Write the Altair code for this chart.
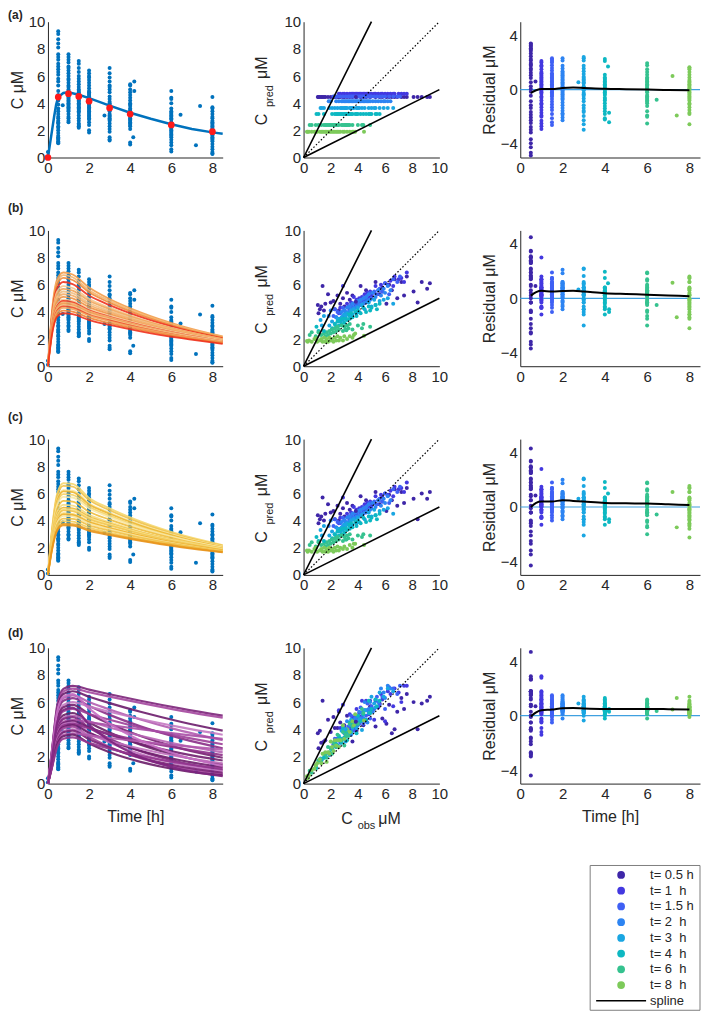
import altair as alt
import pandas as pd

FONT = "Liberation Sans"
INK = "#262626"

# ---------------- data ----------------
groups = [0.5, 1, 1.5, 2, 3, 4, 6, 8]
group_labels = ["t= 0.5 h", "t= 1\u00a0\u00a0h", "t= 1.5 h", "t= 2\u00a0\u00a0h",
                "t= 3\u00a0\u00a0h", "t= 4\u00a0\u00a0h", "t= 6\u00a0\u00a0h", "t= 8\u00a0\u00a0h"]
group_colors = ["#3E26A8", "#4338E0", "#3F60F4", "#2D84F2", "#1AA6E2", "#0DB8C2", "#35C28F", "#7DCA5A"]

# naive pooled means (red dots) and fitted curve, panel (a)
mean_t = [0, 0.5, 1, 1.5, 2, 3, 4, 6, 8]
mean_c = [0, 4.45, 4.7, 4.5, 4.15, 3.65, 3.2, 2.4, 1.9]
fit_t = [0, 0.1, 0.2, 0.3, 0.4, 0.5, 0.75, 1, 1.5, 2, 3, 4, 5, 6, 7, 8, 8.5]
fit_c = [0, 1.0, 2.0, 3.0, 3.9, 4.45, 4.75, 4.8, 4.62, 4.37, 3.82, 3.3, 2.85, 2.45, 2.1, 1.85, 1.75]

# observed concentrations by nominal time, with predictions of models b, c, d
obs_05 = [9.3, 9.1, 8.7, 8.4, 8.1, 7.6, 7.4, 7.2, 6.9, 6.7, 6.5, 6.3, 6.1, 5.8, 5.6, 5.3, 4.9, 4.6, 4.4, 4.2,
          3.9, 3.6, 3.4, 3.2, 3.0, 2.9, 2.7, 2.5, 2.3, 2.2, 2.0, 1.8, 1.6, 1.5, 1.4, 1.3, 1.2, 1.1, 1.05, 2.6]
pb_05 = [6.1, 5.7, 6.2, 4.7, 5.5, 6.6, 5.2, 6.2, 5.0, 6.4, 5.6, 6.0, 4.6, 5.8, 5.3, 6.2, 5.1, 5.6, 4.8, 5.9,
         4.5, 5.2, 4.9, 5.4, 4.4, 5.0, 4.6, 5.2, 4.2, 4.8, 4.7, 5.3, 4.6, 4.1, 5.9, 4.4, 4.2, 3.9, 4.5, 4.1]
pc_05 = [6.1, 5.6, 6.0, 4.1, 5.6, 6.4, 5.3, 6.1, 5.1, 6.3, 5.5, 5.9, 4.7, 5.7, 5.2, 6.1, 5.0, 5.5, 4.9, 5.8,
         4.4, 5.1, 4.8, 5.3, 4.3, 4.9, 4.5, 5.1, 4.1, 4.7, 4.6, 5.2, 4.5, 4.0, 5.7, 4.3, 4.1, 3.8, 4.4, 4.0]
pd_05 = [6.4, 6.1, 5.9, 4.0, 6.0, 6.6, 5.5, 6.3, 5.3, 4.0, 3.7, 5.8, 4.4, 4.8, 5.9, 4.2, 5.7, 4.6, 4.3, 4.9,
         3.9, 3.1, 4.2, 5.0, 4.3, 4.1, 4.5, 4.1, 4.1, 4.9, 3.8, 4.7, 3.2, 3.1, 6.1, 3.0, 3.9, 2.6, 3.7, 5.3]

obs_1 = [7.6, 7.4, 7.2, 7.0, 6.7, 6.6, 6.4, 6.2, 6.0, 5.8, 5.7, 5.5, 5.3, 5.2, 5.0, 4.9, 4.8, 4.7, 4.6, 4.5,
         4.4, 4.3, 4.2, 4.1, 4.0, 3.9, 3.8, 3.7, 3.6, 3.5, 3.4, 3.2, 3.0, 2.9, 2.7, 2.6]
pb_1 = [6.9, 6.2, 6.5, 6.4, 6.6, 5.9, 6.3, 6.0, 6.1, 5.5, 6.0, 5.6, 5.9, 5.4, 5.2, 5.5, 5.0, 5.4, 4.9, 5.3,
        4.8, 5.1, 4.6, 5.0, 4.5, 4.9, 4.4, 5.1, 4.3, 4.7, 4.2, 4.6, 4.1, 5.9, 4.3, 3.9]
pc_1 = [6.8, 6.1, 6.4, 6.3, 6.5, 5.8, 6.2, 5.9, 6.0, 5.4, 5.9, 5.5, 5.8, 5.3, 5.1, 5.4, 4.9, 5.3, 4.8, 5.2,
        4.7, 5.0, 4.5, 4.9, 4.4, 4.8, 4.3, 5.0, 4.2, 4.6, 4.1, 4.5, 4.0, 5.7, 4.2, 3.8]
pd_1 = [7.2, 7.2, 6.0, 6.7, 7.0, 5.7, 6.6, 6.8, 4.6, 6.2, 6.6, 5.6, 6.1, 4.7, 5.5, 6.1, 5.1, 5.4, 6.1, 4.7,
        5.3, 6.1, 4.6, 5.2, 4.6, 5.5, 4.1, 4.7, 4.9, 4.0, 5.1, 4.0, 4.2, 5.8, 4.1, 5.4]

obs_15 = [7.1, 6.9, 6.6, 6.3, 6.0, 5.8, 5.6, 5.4, 5.2, 5.0, 4.9, 4.8, 4.7, 4.6, 4.5, 4.4, 4.3, 4.2, 4.1, 4.0,
          3.9, 3.8, 3.7, 3.6, 3.5, 3.4, 3.3, 3.1, 2.9, 2.7, 2.5, 2.4, 2.3, 2.2]
pb_15 = [6.6, 6.2, 6.4, 5.3, 6.1, 5.5, 5.7, 5.3, 5.5, 5.0, 5.4, 4.9, 5.2, 4.7, 5.0, 4.6, 4.9, 4.5, 4.8, 4.4,
         4.7, 4.3, 4.6, 4.2, 4.5, 4.1, 4.4, 4.0, 4.3, 3.9, 4.0, 3.6, 4.2, 3.7]
pc_15 = [6.5, 6.1, 6.3, 5.3, 6.0, 5.4, 5.6, 5.2, 5.4, 4.9, 5.3, 4.8, 5.1, 4.6, 4.9, 4.5, 4.8, 4.4, 4.7, 4.3,
         4.6, 4.2, 4.5, 4.1, 4.4, 4.0, 4.3, 3.9, 4.2, 3.8, 3.9, 3.5, 4.1, 3.6]
pd_15 = [7.2, 6.6, 7.0, 7.1, 5.5, 6.4, 5.8, 6.4, 5.5, 5.7, 4.8, 5.3, 5.9, 5.0, 5.4, 4.4, 4.9, 5.6, 4.4, 4.8,
         4.4, 4.9, 3.9, 4.3, 5.0, 3.8, 4.2, 3.7, 4.2, 3.0, 3.3, 2.9, 3.3, 2.9]

obs_2 = [6.4, 6.2, 6.0, 5.9, 5.7, 5.5, 5.3, 5.1, 4.9, 4.8, 4.7, 4.6, 4.5, 4.4, 4.3, 4.2, 4.1, 4.0, 3.9, 3.8,
         3.7, 3.6, 3.5, 3.4, 3.3, 3.2, 3.1, 3.0, 2.9, 2.8, 2.6, 2.4, 2.0, 1.85]
pb_2 = [5.6, 5.9, 5.4, 5.7, 5.2, 5.6, 5.1, 5.4, 4.9, 5.3, 4.8, 5.1, 4.7, 5.0, 4.6, 4.9, 4.5, 4.8, 4.4, 4.7,
        4.3, 4.6, 4.2, 4.4, 4.0, 4.3, 3.9, 4.1, 3.7, 4.0, 3.5, 3.6, 4.1, 3.7]
pc_2 = [5.5, 5.8, 5.3, 5.6, 5.1, 5.5, 5.0, 5.3, 4.8, 5.2, 4.7, 5.0, 4.6, 4.9, 4.5, 4.8, 4.4, 4.7, 4.3, 4.6,
        4.2, 4.5, 4.1, 4.3, 3.9, 4.2, 3.8, 4.0, 3.6, 3.9, 3.4, 3.5, 4.0, 3.6]
pd_2 = [7.0, 7.2, 6.3, 6.7, 7.0, 6.0, 6.2, 5.3, 6.0, 5.5, 4.5, 5.4, 6.0, 4.8, 5.2, 4.8, 5.3, 4.3, 4.6, 4.8,
        4.2, 4.4, 3.6, 4.3, 3.9, 4.6, 3.5, 3.7, 3.9, 3.3, 3.4, 2.7, 2.6, 2.25]

obs_3 = [6.6, 6.2, 5.9, 5.6, 5.3, 5.2, 5.0, 4.8, 4.5, 4.3, 4.1, 4.0, 3.9, 3.7, 3.6, 3.5, 3.4, 3.2, 3.1, 3.0,
         2.9, 2.8, 2.7, 2.5, 2.3, 2.1, 1.9, 1.5, 1.35, 1.25]
pb_3 = [4.6, 5.0, 4.9, 4.8, 4.5, 4.9, 4.4, 4.7, 4.2, 4.5, 4.0, 4.3, 3.9, 4.2, 3.8, 4.1, 3.7, 3.9, 3.5, 3.8,
        3.4, 3.6, 3.3, 3.5, 3.1, 3.3, 3.0, 3.7, 3.0, 3.4]
pc_3 = [4.5, 4.9, 4.8, 4.7, 4.4, 4.8, 4.3, 4.6, 4.1, 4.4, 3.9, 4.2, 3.8, 4.1, 3.7, 4.0, 3.6, 3.8, 3.4, 3.7,
        3.3, 3.5, 3.2, 3.4, 3.0, 3.2, 2.9, 3.6, 2.9, 3.3]
pd_3 = [6.8, 7.0, 6.4, 6.7, 5.6, 5.9, 6.4, 5.2, 5.4, 3.95, 4.7, 5.0, 4.1, 4.5, 4.1, 4.7, 3.7, 3.9, 3.1, 3.9,
        3.3, 3.9, 3.3, 2.8, 3.1, 2.6, 2.1, 2.2, 1.75, 1.85]

obs_4 = [5.4, 5.3, 5.0, 4.8, 4.6, 4.4, 4.2, 4.0, 3.9, 3.8, 3.6, 3.5, 3.4, 3.3, 3.2, 3.1, 3.0, 2.9, 2.8, 2.7,
         2.6, 2.5, 2.4, 2.3, 2.1, 1.1, 0.95]
pb_4 = [4.2, 4.5, 4.3, 4.4, 4.0, 4.3, 3.9, 4.1, 3.7, 4.0, 3.6, 3.9, 3.5, 3.8, 3.4, 3.6, 3.2, 3.5, 3.1, 3.4,
        3.0, 3.3, 2.9, 3.1, 2.8, 2.6, 2.9]
pc_4 = [4.1, 4.4, 4.2, 4.3, 3.9, 4.2, 3.8, 4.0, 3.6, 3.9, 3.5, 3.8, 3.4, 3.7, 3.3, 3.5, 3.1, 3.4, 3.0, 3.3,
        2.9, 3.2, 2.8, 3.0, 2.7, 2.5, 2.8]
pd_4 = [5.7, 6.2, 5.5, 6.1, 4.7, 5.1, 4.6, 5.0, 3.7, 4.4, 4.4, 3.8, 4.5, 3.8, 3.2, 3.8, 3.4, 4.1, 3.0, 3.3,
        3.5, 2.8, 2.9, 3.1, 2.5, 1.7, 1.15]

obs_6 = [4.9, 4.4, 4.3, 4.0, 3.6, 3.4, 3.3, 3.2, 3.1, 3.0, 2.9, 2.8, 2.6, 2.5, 2.4, 2.3, 2.2, 2.1, 2.0, 1.9,
         1.8, 1.7, 1.6, 1.5, 1.3, 1.1, 0.9, 0.6, 0.45]
pb_6 = [2.9, 3.1, 2.8, 3.0, 2.7, 3.1, 2.8, 3.0, 2.7, 2.9, 2.6, 3.0, 2.7, 2.9, 2.6, 2.8, 2.5, 2.7, 2.4, 2.6,
        2.3, 2.5, 2.2, 2.4, 2.3, 2.5, 2.2, 2.5, 2.3]
pc_6 = [2.9, 3.0, 2.8, 2.9, 2.6, 3.0, 2.7, 2.9, 2.6, 2.8, 2.5, 2.9, 2.6, 2.8, 2.5, 2.7, 2.4, 2.6, 2.3, 2.5,
        2.2, 2.4, 2.1, 2.3, 2.2, 2.4, 2.1, 2.4, 2.2]
pd_6 = [5.2, 5.2, 5.5, 4.4, 4.2, 4.4, 3.5, 3.9, 3.6, 2.8, 3.8, 3.2, 3.2, 3.6, 2.7, 2.8, 3.0, 2.2, 2.6, 2.3,
        2.7, 1.9, 2.1, 2.2, 1.6, 1.7, 1.3, 0.8, 0.95]

obs_8 = [4.45, 3.7, 3.6, 3.4, 3.2, 3.0, 2.9, 2.7, 2.6, 2.5, 2.4, 2.3, 2.2, 2.1, 2.0, 1.9, 1.8, 1.7, 1.6, 1.5,
         1.4, 1.3, 1.2, 1.0, 0.8, 0.6, 0.4, 0.3, 0.25]
pb_8 = [2.25, 2.3, 2.1, 2.2, 2.0, 2.2, 1.9, 2.1, 1.9, 2.2, 1.9, 2.1, 1.8, 2.0, 1.9, 2.1, 1.8, 2.0, 1.8, 2.1,
        1.8, 2.0, 1.9, 1.8, 2.0, 1.8, 1.9, 1.8, 1.85]
pc_8 = [2.2, 2.3, 2.0, 2.2, 1.9, 2.1, 1.9, 2.0, 1.8, 2.1, 1.8, 2.0, 1.7, 1.9, 1.8, 2.0, 1.7, 1.9, 1.7, 2.0,
        1.7, 1.9, 1.8, 1.7, 1.9, 1.7, 1.8, 1.7, 1.8]
pd_8 = [4.65, 4.3, 4.6, 3.8, 4.0, 3.3, 4.3, 3.2, 2.7, 3.2, 2.8, 3.2, 2.4, 2.7, 3.1, 2.2, 2.3, 1.6, 2.3, 1.9,
        2.2, 1.5, 1.8, 1.5, 1.1, 1.0, 0.6, 0.4, 0.55]

# samples taken off the nominal time
extra_t = [0.72, 2.75, 4.15, 4.2, 4.2, 6.45, 7.2, 7.4]
extra_grp = [0.5, 3, 4, 4, 4, 6, 8, 8]
extra_c = [3.85, 3.1, 1.5, 4.9, 5.6, 3.15, 0.9, 3.8]
extra_pb = [4.75, 3.75, 2.6, 4.1, 4.6, 2.65, 2.05, 2.4]
extra_pc = [4.7, 3.7, 2.5, 4.0, 4.5, 2.6, 2.0, 2.3]
extra_pd = [4.55, 4.0, 1.9, 5.2, 6.1, 3.5, 1.35, 5.1]

# pre-dose samples
zero_c = [0.4, 0.1]

# individual predicted curves (values at curve_t)
curve_t = [0, 0.2, 0.45, 0.75, 1.2, 2, 3, 4.5, 6.5, 8.5]
curves_b = [
    [0, 4.1, 6.4, 6.9, 6.75, 5.8, 4.95, 3.97, 2.96, 2.2],
    [0, 4.0, 6.2, 6.7, 6.55, 5.6, 4.82, 3.87, 2.88, 2.15],
    [0, 3.9, 6.05, 6.5, 6.35, 5.45, 4.68, 3.76, 2.8, 2.1],
    [0, 3.7, 5.75, 6.2, 6.05, 5.2, 4.5, 3.63, 2.73, 2.05],
    [0, 3.55, 5.5, 5.9, 5.76, 4.96, 4.31, 3.49, 2.64, 2.0],
    [0, 3.4, 5.3, 5.7, 5.57, 4.82, 4.2, 3.43, 2.62, 2.0],
    [0, 3.3, 5.1, 5.5, 5.38, 4.65, 4.07, 3.33, 2.55, 1.95],
    [0, 3.2, 4.95, 5.3, 5.19, 4.51, 3.96, 3.27, 2.52, 1.95],
    [0, 3.05, 4.75, 5.1, 4.99, 4.35, 3.83, 3.16, 2.45, 1.9],
    [0, 2.95, 4.55, 4.9, 4.8, 4.2, 3.72, 3.1, 2.43, 1.9],
    [0, 2.9, 4.45, 4.8, 4.7, 4.11, 3.64, 3.03, 2.37, 1.85],
    [0, 2.8, 4.35, 4.7, 4.6, 4.05, 3.59, 2.99, 2.35, 1.85],
    [0, 2.75, 4.3, 4.6, 4.5, 3.96, 3.5, 2.92, 2.29, 1.8],
    [0, 2.7, 4.2, 4.5, 4.41, 3.88, 3.45, 2.89, 2.28, 1.8],
    [0, 2.65, 4.1, 4.4, 4.31, 3.79, 3.37, 2.82, 2.22, 1.75],
    [0, 2.6, 4.0, 4.3, 4.21, 3.72, 3.31, 2.78, 2.21, 1.75],
    [0, 2.45, 3.8, 4.1, 4.02, 3.56, 3.18, 2.68, 2.13, 1.7],
    [0, 2.35, 3.65, 3.9, 3.83, 3.4, 3.04, 2.57, 2.06, 1.65],
]
colors_b = ["#F39C4A", "#F5B670", "#F08C3C", "#F0321E", "#F5C58E", "#F2A55A", "#EFBF85", "#F4AD66", "#F09345",
            "#F6CB98", "#EE3A22", "#F3B473", "#EF9A4E", "#F5C28A", "#F04A28", "#F2A860", "#EE8636", "#F0301C"]

curves_c = [
    [0, 3.4, 6.0, 6.75, 6.7, 5.67, 4.9, 3.94, 2.94, 2.2],
    [0, 3.3, 5.8, 6.55, 6.5, 5.51, 4.76, 3.83, 2.86, 2.15],
    [0, 3.15, 5.55, 6.25, 6.2, 5.28, 4.58, 3.7, 2.79, 2.1],
    [0, 3.1, 5.45, 6.15, 6.1, 5.19, 4.5, 3.63, 2.73, 2.05],
    [0, 3.0, 5.3, 5.95, 5.9, 5.03, 4.36, 3.52, 2.66, 2.0],
    [0, 2.9, 5.1, 5.75, 5.7, 4.89, 4.26, 3.46, 2.63, 2.0],
    [0, 2.75, 4.85, 5.45, 5.4, 4.65, 4.07, 3.33, 2.55, 1.95],
    [0, 2.6, 4.6, 5.15, 5.1, 4.42, 3.88, 3.19, 2.46, 1.9],
    [0, 2.5, 4.4, 4.95, 4.9, 4.28, 3.78, 3.13, 2.44, 1.9],
    [0, 2.45, 4.3, 4.85, 4.8, 4.2, 3.72, 3.1, 2.43, 1.9],
    [0, 2.4, 4.2, 4.75, 4.7, 4.11, 3.64, 3.03, 2.37, 1.85],
    [0, 2.3, 4.05, 4.55, 4.5, 3.96, 3.5, 2.92, 2.29, 1.8],
    [0, 2.25, 3.95, 4.45, 4.41, 3.88, 3.45, 2.89, 2.28, 1.8],
    [0, 2.2, 3.85, 4.35, 4.31, 3.79, 3.37, 2.82, 2.22, 1.75],
    [0, 2.1, 3.7, 4.15, 4.12, 3.65, 3.26, 2.75, 2.19, 1.75],
    [0, 2.0, 3.5, 3.95, 3.92, 3.48, 3.12, 2.64, 2.12, 1.7],
    [0, 1.9, 3.35, 3.75, 3.73, 3.34, 3.01, 2.57, 2.09, 1.7],
    [0, 1.85, 3.25, 3.65, 3.63, 3.25, 2.93, 2.5, 2.03, 1.65],
]
colors_c = ["#F5D76E", "#F1C24A", "#F7E49A", "#EDB52E", "#F4D265", "#F8E8A6", "#F0BC3C", "#F5DC80", "#EFB634",
            "#F7E38F", "#F2C550", "#F6D977", "#EDAE2A", "#F8E69E", "#F1C046", "#F3CD5C", "#EBA123", "#E8941C"]

curves_d = [
    [0, 2.5, 5.75, 6.98, 7.2, 6.92, 6.58, 6.1, 5.52, 5.0],
    [0, 2.45, 5.6, 6.79, 7.0, 6.73, 6.4, 5.94, 5.36, 4.85],
    [0, 2.4, 5.45, 6.6, 6.8, 6.4, 5.93, 5.29, 4.54, 3.9],
    [0, 2.3, 5.2, 6.3, 6.5, 6.01, 5.46, 4.72, 3.88, 3.2],
    [0, 2.2, 5.05, 6.1, 6.3, 5.72, 5.06, 4.22, 3.31, 2.6],
    [0, 2.1, 4.8, 5.8, 6.0, 5.67, 5.29, 4.76, 4.14, 3.6],
    [0, 2.05, 4.65, 5.63, 5.8, 5.13, 4.4, 3.5, 2.58, 1.9],
    [0, 1.95, 4.4, 5.33, 5.5, 5.13, 4.7, 4.12, 3.46, 2.9],
    [0, 1.8, 4.15, 5.04, 5.2, 4.5, 3.76, 2.87, 2.0, 1.4],
    [0, 1.75, 4.0, 4.85, 5.0, 4.59, 4.13, 3.52, 2.84, 2.3],
    [0, 1.7, 3.9, 4.75, 4.9, 4.11, 3.31, 2.39, 1.55, 1.0],
    [0, 1.65, 3.75, 4.56, 4.7, 4.52, 4.31, 4.0, 3.63, 3.3],
    [0, 1.6, 3.7, 4.46, 4.6, 4.12, 3.6, 2.93, 2.23, 1.7],
    [0, 1.6, 3.6, 4.37, 4.5, 3.77, 3.03, 2.18, 1.4, 0.9],
    [0, 1.55, 3.5, 4.27, 4.4, 4.06, 3.66, 3.15, 2.57, 2.1],
    [0, 1.5, 3.45, 4.17, 4.3, 3.74, 3.14, 2.42, 1.7, 1.2],
    [0, 1.45, 3.35, 4.07, 4.2, 3.45, 2.7, 1.87, 1.14, 0.7],
    [0, 1.4, 3.2, 3.88, 4.0, 3.59, 3.14, 2.57, 1.96, 1.5],
    [0, 1.35, 3.1, 3.78, 3.9, 3.27, 2.64, 1.91, 1.24, 0.8],
    [0, 1.3, 2.95, 3.59, 3.7, 3.54, 3.36, 3.1, 2.78, 2.5],
    [0, 1.25, 2.9, 3.49, 3.6, 2.96, 2.31, 1.6, 0.98, 0.6],
    [0, 1.2, 2.7, 3.3, 3.4, 3.0, 2.57, 2.04, 1.5, 1.1],
    [0, 2.3, 5.3, 6.4, 6.6, 5.52, 4.42, 3.17, 2.03, 1.3],
    [0, 1.95, 4.5, 5.43, 5.6, 4.34, 3.16, 1.96, 1.04, 0.55],
]
colors_d = ["#7B2379", "#A4479F", "#6C1C6B", "#B35DB0", "#8A2D87", "#C47AC2", "#74206F", "#9C3F98",
            "#682066", "#B765B5", "#82287F", "#A94EA6", "#701F6E", "#BE6FBC", "#8E3189", "#6E1D6C",
            "#A04399", "#C070BD", "#7A2276", "#B058AC", "#6A1D68", "#93358F", "#C56EC3", "#7E2580"]

# smoothing splines of the residuals
spline_t = [0.5, 0.75, 1, 1.5, 2, 2.5, 3, 4, 5, 6, 7, 8]
spline_a = [-0.25, -0.05, 0.05, 0.05, 0.12, 0.15, 0.12, 0.06, 0.03, 0.0, -0.03, -0.05]
spline_b = [0.2, 0.45, 0.55, 0.5, 0.53, 0.55, 0.5, 0.38, 0.32, 0.27, 0.21, 0.15]
spline_c = [0.0, 0.3, 0.4, 0.4, 0.5, 0.45, 0.4, 0.3, 0.27, 0.25, 0.2, 0.15]
spline_d = [-0.05, 0.25, 0.4, 0.45, 0.55, 0.56, 0.53, 0.5, 0.5, 0.5, 0.48, 0.45]

# reference lines of the observed-vs-predicted panels
line_kind = ["unity", "unity", "twofold_hi", "twofold_hi", "twofold_lo", "twofold_lo"]
line_x = [0, 10, 0, 5, 0, 10]
line_y = [0, 10, 0, 10, 0, 5]

# ---------------- tables ----------------
obs_lists = [obs_05, obs_1, obs_15, obs_2, obs_3, obs_4, obs_6, obs_8]
pb_lists = [pb_05, pb_1, pb_15, pb_2, pb_3, pb_4, pb_6, pb_8]
pc_lists = [pc_05, pc_1, pc_15, pc_2, pc_3, pc_4, pc_6, pc_8]
pd_lists = [pd_05, pd_1, pd_15, pd_2, pd_3, pd_4, pd_6, pd_8]
rec = []
for gi, g in enumerate(groups):
    for i, v in enumerate(obs_lists[gi]):
        rec.append({"grp": g, "t": g, "c": v, "pb": pb_lists[gi][i], "pc": pc_lists[gi][i], "pd": pd_lists[gi][i]})
for i in range(len(extra_t)):
    rec.append({"grp": extra_grp[i], "t": extra_t[i], "c": extra_c[i],
                "pb": extra_pb[i], "pc": extra_pc[i], "pd": extra_pd[i]})
obs_df = pd.DataFrame(rec)
obs_df["pa"] = obs_df["grp"].map(dict(zip(mean_t, mean_c)))

pts_df = pd.concat([pd.DataFrame({"t": [0] * len(zero_c), "c": zero_c}), obs_df[["t", "c"]]], ignore_index=True)
fit_df = pd.DataFrame({"t": fit_t, "c": fit_c})
mean_df = pd.DataFrame({"t": mean_t, "c": mean_c})
ref_df = pd.DataFrame({"kind": line_kind, "c": line_x, "p": line_y})
spline_dfs = {m: pd.DataFrame({"t": spline_t, "res": s})
              for m, s in zip("abcd", [spline_a, spline_b, spline_c, spline_d])}


def curve_table(model, curves):
    rows = []
    for k, vals in enumerate(curves):
        for t, v in zip(curve_t, vals):
            rows.append({"t": t, "c": v, "id": f"{model}{k:02d}"})
    return pd.DataFrame(rows)


curve_sets = {
    "b": (curve_table("b", curves_b), colors_b, 1.8),
    "c": (curve_table("c", curves_c), colors_c, 1.8),
    "d": (curve_table("d", curves_d), colors_d, 2.2),
}

one = pd.DataFrame({"k": [0]})
GSCALE = alt.Scale(domain=groups, range=group_colors)
GCOL = alt.Color("grp:O", scale=GSCALE, legend=None)

W1, W2, W3, H = 175, 136, 180, 136
HSP = 81
VSP = 27
LW, LH = 110, 145


def txt(s, x, y, size=16, angle=0, bold=False, align="center", baseline="middle", opacity=1):
    kw = dict(text=s, font=FONT, fontSize=size, color=INK, align=align, baseline=baseline, angle=angle,
              opacity=opacity)
    if bold:
        kw["fontWeight"] = "bold"
    return alt.Chart(one).mark_text(**kw).encode(x=alt.value(x), y=alt.value(y))


def time_axis(title):
    if title:
        return alt.Axis(values=[0, 2, 4, 6, 8], title=title, titlePadding=7)
    return alt.Axis(values=[0, 2, 4, 6, 8], title=None)


def conc_panel(model, letter, ly, xtitle):
    X = alt.X("t:Q", scale=alt.Scale(domain=[0, 8.5], nice=False, zero=False), axis=time_axis(xtitle))
    Y = alt.Y("c:Q", scale=alt.Scale(domain=[0, 10], nice=False),
              axis=alt.Axis(values=[0, 2, 4, 6, 8, 10], title="C μM"))
    layers = [alt.Chart(pts_df).mark_circle(size=16, color="#0072BD", opacity=1).encode(x=X, y=Y)]
    if model == "a":
        layers.append(alt.Chart(fit_df).mark_line(color="#0072BD", strokeWidth=2.5).encode(x=X, y=Y))
        layers.append(alt.Chart(mean_df).mark_circle(size=45, color="#FF1A1A", opacity=1).encode(x=X, y=Y))
    else:
        cdf, cols, sw = curve_sets[model]
        ids = sorted(cdf["id"].unique().tolist())
        layers.append(alt.Chart(cdf).mark_line(strokeWidth=sw, interpolate="monotone", opacity=0.9).encode(
            x=X, y=Y, color=alt.Color("id:N", scale=alt.Scale(domain=ids, range=cols), legend=None)))
    layers.append(txt(letter, -40, ly, 12, bold=True, align="left"))
    if model != "a":
        # keeps every row's top extent the same
        layers.append(txt(letter, -40, -22, 12, bold=True, align="left", opacity=0))
    return alt.layer(*layers).properties(width=W1, height=H)


def pred_panel(model, last):
    pcol = "p" + model
    xa = alt.Axis(values=[0, 2, 4, 6, 8, 10], title=None)
    ya = alt.Axis(values=[0, 2, 4, 6, 8, 10], title=None)
    X = alt.X("c:Q", scale=alt.Scale(domain=[0, 10], nice=False), axis=xa)
    pts = alt.Chart(obs_df).mark_circle(size=16, opacity=1).encode(
        x=X, y=alt.Y(f"{pcol}:Q", scale=alt.Scale(domain=[0, 10], nice=False), axis=ya), color=GCOL)
    YR = alt.Y("p:Q", scale=alt.Scale(domain=[0, 10], nice=False), axis=ya)
    unity = alt.Chart(ref_df).transform_filter("datum.kind == 'unity'").mark_line(
        color="black", strokeWidth=1.2, strokeDash=[1.5, 2]).encode(x=X, y=YR)
    fold = alt.Chart(ref_df).transform_filter("datum.kind != 'unity'").mark_line(
        color="black", strokeWidth=1.6).encode(x=X, y=YR, detail="kind:N")
    layers = [pts, unity, fold,
              txt("C", -42, 98, 16, 270), txt("pred", -34, 74.5, 11, 270), txt("μM", -42, 46, 16, 270)]
    if last:
        layers += [txt("C", 43.5, 171, 16), txt("obs", 63, 178, 11), txt("μM", 86, 171, 16)]
    return alt.layer(*layers).properties(width=W2, height=H)


def resid_panel(model, xtitle):
    pcol = "p" + model
    X = alt.X("t:Q", scale=alt.Scale(domain=[0, 8.5], nice=False, zero=False), axis=time_axis(xtitle))
    Y = alt.Y("res:Q", scale=alt.Scale(domain=[-5, 5], nice=False),
              axis=alt.Axis(values=[-4, -2, 0, 2, 4], title="Residual μM"))
    zero = alt.Chart(one).mark_rule(color="#3FA0E0", strokeWidth=1.2).encode(y=alt.datum(0))
    pts = alt.Chart(obs_df).transform_calculate(res=f"datum.{pcol} - datum.c").mark_circle(
        size=16, opacity=1).encode(x=X, y=Y, color=GCOL)
    spl = alt.Chart(spline_dfs[model]).mark_line(color="black", strokeWidth=2, interpolate="monotone").encode(
        x=X, y=Y)
    return alt.layer(zero, pts, spl).properties(width=W3, height=H)


def indep(c):
    return c.resolve_scale(x="independent", y="independent", color="independent")


rows = []
for model, letter, ly in [("a", "(a)", -7), ("b", "(b)", -22), ("c", "(c)", -22), ("d", "(d)", -15)]:
    last = model == "d"
    xt = "Time [h]" if last else None
    rows.append(indep(alt.hconcat(conc_panel(model, letter, ly, xt), pred_panel(model, last),
                                  resid_panel(model, xt), spacing=HSP, bounds="flush")))

# legend
leg_domain = group_labels + ["spline"]
LY = alt.Y("lab:N", scale=alt.Scale(domain=leg_domain, type="point", padding=0.6), axis=None)
leg_df = pd.DataFrame({"lab": group_labels, "grp": groups})
sp_df = pd.DataFrame({"lab": ["spline"]})
box = alt.Chart(one).mark_rect(fill="white", stroke="#808080", strokeWidth=1).encode(
    x=alt.value(0), x2=alt.value(LW), y=alt.value(0), y2=alt.value(LH))
dots = alt.Chart(leg_df).mark_circle(size=60, opacity=1).encode(x=alt.value(31), y=LY, color=GCOL)
labs = alt.Chart(leg_df).mark_text(align="left", font=FONT, fontSize=13, color=INK).encode(
    x=alt.value(60), y=LY, text="lab:N")
sp_line = alt.Chart(sp_df).mark_rule(color="black", strokeWidth=1.5).encode(
    x=alt.value(6), x2=alt.value(56), y=LY)
sp_txt = alt.Chart(sp_df).mark_text(align="left", font=FONT, fontSize=13, color=INK).encode(
    x=alt.value(60), y=LY, text="lab:N")
legend = alt.layer(box, dots, labs, sp_line, sp_txt).properties(width=LW, height=LH)
spacer = alt.Chart(one).mark_point(opacity=0).encode(x=alt.value(0), y=alt.value(0)).properties(
    width=W1 + HSP + W2 + HSP + W3 - LW, height=LH)
leg_row = indep(alt.hconcat(spacer, legend, spacing=0, bounds="flush"))

bottom_block = indep(alt.vconcat(rows[3], leg_row, spacing=32))

chart = indep(alt.vconcat(rows[0], rows[1], rows[2], bottom_block, spacing=VSP)).properties(
    padding=0, background="white").configure_view(stroke=None).configure_axis(
    labelFont=FONT, titleFont=FONT, labelFontSize=15, titleFontSize=16, titleFontWeight="normal",
    labelColor=INK, titleColor=INK, domainColor=INK, domainWidth=1, ticks=False, grid=False,
    labelPadding=3, titlePadding=3, labelFlush=False
)

chart.save("out.html", embed_options={"renderer": "svg", "actions": False})
